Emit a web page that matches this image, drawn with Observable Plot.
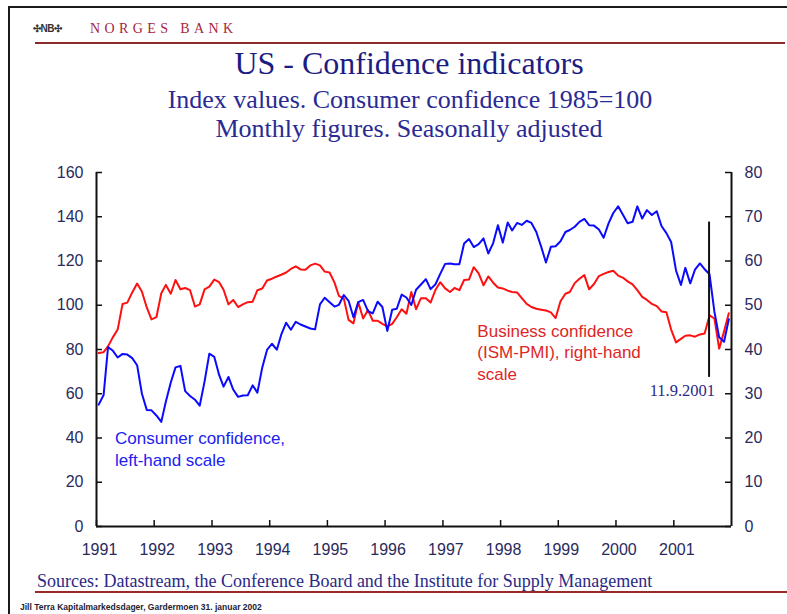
<!DOCTYPE html>
<html>
<head>
<meta charset="utf-8">
<script src="https://cdn.jsdelivr.net/npm/d3@7"></script>
<script src="https://cdn.jsdelivr.net/npm/@observablehq/plot@0.6"></script>
<style>
  body { margin: 0; background: #fff; }
  #page { position: relative; width: 787px; height: 614px; background: #fff; overflow: hidden; }
  .abs { position: absolute; white-space: nowrap; }
  .serif { font-family: "Liberation Serif", "Times New Roman", serif; }
  .sans { font-family: "Liberation Sans", Arial, sans-serif; }
  .center { transform: translateX(-50%); }
</style>
</head>
<body>
<div id="page">
  <div class="abs sans" style="left:33px;top:22px;font-size:10px;font-weight:bold;color:#333;line-height:14px;letter-spacing:-0.5px;">✣NB✣</div>
  <div class="abs serif" style="left:90px;top:20px;font-size:14px;letter-spacing:4.4px;color:#a8243c;line-height:18px;">NORGES BANK</div>
  <div class="abs" style="left:35px;top:42px;width:750px;height:2px;background:#8c2b2b;"></div>

  <div class="abs serif center" style="left:409px;top:47px;font-size:32px;line-height:32px;color:#1c1c82;">US - Confidence indicators</div>
  <div class="abs serif center" style="left:410px;top:88px;font-size:26px;line-height:24px;color:#2a2a92;">Index values. Consumer confidence 1985=100</div>
  <div class="abs serif center" style="left:409px;top:117px;font-size:26px;line-height:24px;color:#2a2a92;">Monthly figures. Seasonally adjusted</div>

  <div id="chart" class="abs" style="left:0;top:150px;"></div>

  <div class="abs serif" style="left:37px;top:571px;font-size:18px;line-height:20px;color:#2a2a85;">Sources: Datastream, the Conference Board and the Institute for Supply Management</div>
  <div class="abs" style="left:35px;top:591px;width:752px;height:2px;background:#9a2a2a;"></div>
  <div class="abs sans" style="left:20px;top:602px;font-size:8.5px;font-weight:bold;line-height:10px;color:#223;">Jill Terra Kapitalmarkedsdager, Gardermoen 31. januar 2002</div>

  <div class="abs" style="left:8px;top:6px;width:779px;height:2px;background:#1a1a1a;"></div>
  <div class="abs" style="left:8px;top:6px;width:2px;height:608px;background:#1a1a1a;"></div>
</div>
<script>
// ---- Data ----
const startYear = 1991;
// Conference Board consumer confidence (1985=100), monthly Jan 1991 - Dec 2001
const consumer = [
  55.1, 59.4, 81.1, 79.4, 76.4, 78.0, 77.7, 76.1, 72.9, 60.1, 52.7, 52.5,
  50.2, 47.3, 56.5, 65.1, 71.9, 72.6, 61.2, 59.0, 57.3, 54.6, 65.6, 78.1,
  76.7, 68.5, 63.2, 67.6, 61.9, 58.6, 59.2, 59.3, 63.8, 60.5, 71.9, 79.8,
  82.6, 79.9, 86.7, 92.1, 88.9, 92.5, 91.3, 90.4, 89.5, 89.1, 100.4, 103.4,
  101.4, 99.4, 100.2, 104.6, 102.0, 94.6, 101.4, 102.4, 97.3, 96.3, 101.6, 99.2,
  88.4, 98.0, 98.4, 104.8, 103.5, 100.1, 107.0, 109.4, 111.8, 107.3, 109.5, 114.2,
  118.7, 118.9, 118.5, 118.5, 127.9, 129.9, 126.3, 127.6, 130.2, 123.4, 128.1, 136.2,
  128.3, 137.4, 133.8, 137.2, 136.3, 138.2, 137.2, 133.1, 126.4, 119.3, 126.4, 126.7,
  128.9, 133.1, 134.0, 135.5, 137.7, 139.0, 136.2, 136.0, 134.2, 130.5, 137.0, 141.7,
  144.7, 140.8, 137.1, 137.7, 144.7, 139.2, 143.0, 140.8, 142.5, 135.8, 132.6, 128.6,
  115.7, 109.2, 116.9, 109.9, 116.1, 118.9, 116.3, 114.0, 97.0, 85.5, 83.5, 93.7
];
// ISM-PMI business confidence, monthly Jan 1991 - Dec 2001 (right-hand scale)
const ism = [
  39.2, 39.4, 40.7, 42.8, 44.5, 50.3, 50.6, 52.9, 54.9, 53.1, 49.5, 46.8,
  47.3, 52.7, 54.6, 52.6, 55.7, 53.6, 53.9, 53.4, 49.7, 50.2, 53.6, 54.2,
  55.8, 55.2, 53.5, 50.2, 51.2, 49.6, 50.2, 50.7, 50.8, 53.4, 53.8, 55.6,
  56.0, 56.5, 56.9, 57.4, 58.2, 58.8, 58.1, 58.0, 59.0, 59.4, 59.0, 57.6,
  57.4, 55.1, 52.1, 51.5, 46.7, 45.9, 50.7, 47.0, 48.9, 46.5, 46.5, 45.8,
  45.2, 45.8, 47.3, 49.1, 48.1, 53.0, 49.1, 51.6, 51.6, 50.6, 53.5, 55.2,
  53.8, 53.0, 53.9, 53.4, 55.7, 55.8, 58.6, 57.2, 54.5, 56.5, 55.1, 54.0,
  53.8, 53.3, 53.0, 52.9, 51.6, 50.3, 49.6, 49.2, 49.0, 48.8, 48.4, 47.1,
  50.9, 52.6, 53.0, 55.0, 56.0, 56.8, 53.6, 54.8, 56.6, 57.1, 57.5, 57.8,
  56.7, 56.2, 55.4, 54.7, 53.4, 51.9, 51.2, 50.3, 49.8, 48.6, 48.4, 44.5,
  41.6, 42.4, 43.1, 43.2, 42.9, 43.4, 43.6, 47.7, 47.0, 40.2, 44.1, 48.2
];
const leftTicks = [0, 20, 40, 60, 80, 100, 120, 140, 160];
const rightTickLabels = [0, 10, 20, 30, 40, 50, 60, 70, 80];
const yearLabels = [1991, 1992, 1993, 1994, 1995, 1996, 1997, 1998, 1999, 2000, 2001];
const consumerLabel = "Consumer confidence,\nleft-hand scale";
const businessLabel = "Business confidence\n(ISM-PMI), right-hand\nscale";
const eventLabel = "11.9.2001";

// ---- Build tables ----
const monthDate = i => new Date(Date.UTC(startYear, i, 15));
const consumerData = consumer.map((v, i) => ({date: monthDate(i), value: v}));
const ismData = ism.map((v, i) => ({date: monthDate(i), value: v}));
const yearDates = yearLabels.map(y => new Date(Date.UTC(y, 0, 1)));
const xStart = new Date(Date.UTC(1991, 0, 1));
const xEnd = new Date(Date.UTC(2002, 0, 1));
const rightScale = 160 / 80; // right-hand value -> left-hand units
const eventDate = new Date(Date.UTC(2001, 7, 12));

const W = 787, H = 420, mL = 96, mR = 56, mT = 22, mB = 44;
const plotW = W - mL - mR, plotH = H - mT - mB;
const axisColor = "#111";
const tickLen = 6;

const chart = Plot.plot({
  width: W, height: H,
  marginLeft: mL, marginRight: mR, marginTop: mT, marginBottom: mB,
  style: {background: "transparent", fontFamily: "Liberation Sans, Arial, sans-serif", fontSize: "16px", color: "#2a2a5c"},
  x: {type: "utc", domain: [xStart, xEnd]},
  y: {domain: [0, 160]},
  marks: [
    Plot.line(ismData, {x: "date", y: d => d.value * rightScale, stroke: "#ff1010", strokeWidth: 2}),
    Plot.line(consumerData, {x: "date", y: "value", stroke: "#0a0aff", strokeWidth: 2}),
    Plot.ruleX([eventDate], {y1: 67.4, y2: 137.6, stroke: axisColor, strokeWidth: 2}),
    Plot.axisY(leftTicks, {anchor: "left", tickSize: 0, tickPadding: 13, label: null}),
    Plot.axisY(leftTicks, {anchor: "right", tickSize: 0, tickPadding: 13, label: null,
      tickFormat: d => String(rightTickLabels[leftTicks.indexOf(d)])}),
    Plot.axisX(yearDates, {anchor: "bottom", tickSize: 0, tickPadding: 17, label: null, dx: 3,
      tickFormat: d => String(d.getUTCFullYear())}),
    Plot.tickY(leftTicks, {y: d => d, insetRight: plotW - tickLen, stroke: axisColor, strokeWidth: 1.5}),
    Plot.tickY(leftTicks, {y: d => d, insetLeft: plotW - tickLen, stroke: axisColor, strokeWidth: 1.5}),
    Plot.tickX(yearDates, {x: d => d, insetTop: plotH - tickLen, stroke: axisColor, strokeWidth: 1.5}),
    Plot.ruleX([xStart, xEnd], {stroke: axisColor, strokeWidth: 2}),
    Plot.ruleY([0], {stroke: axisColor, strokeWidth: 2}),
    Plot.text([consumerLabel], {x: () => new Date(Date.UTC(1991, 3, 28)), y: () => 35.5, text: d => d,
      textAnchor: "start", lineAnchor: "middle", lineHeight: 1.3, fontSize: 17, fill: "#2020f2"}),
    Plot.text([businessLabel], {x: () => new Date(Date.UTC(1997, 7, 7)), y: () => 79.1, text: d => d,
      textAnchor: "start", lineAnchor: "middle", lineHeight: 1.25, fontSize: 17, fill: "#dd2626"}),
    Plot.text([eventLabel], {x: () => new Date(Date.UTC(2000, 7, 1)), y: () => 61.5, text: d => d,
      textAnchor: "start", lineAnchor: "middle", fontSize: 16.5, fill: "#2a2a88",
      fontFamily: "Liberation Serif, Times New Roman, serif"})
  ]
});
document.getElementById("chart").appendChild(chart);
</script>
</body>
</html>
